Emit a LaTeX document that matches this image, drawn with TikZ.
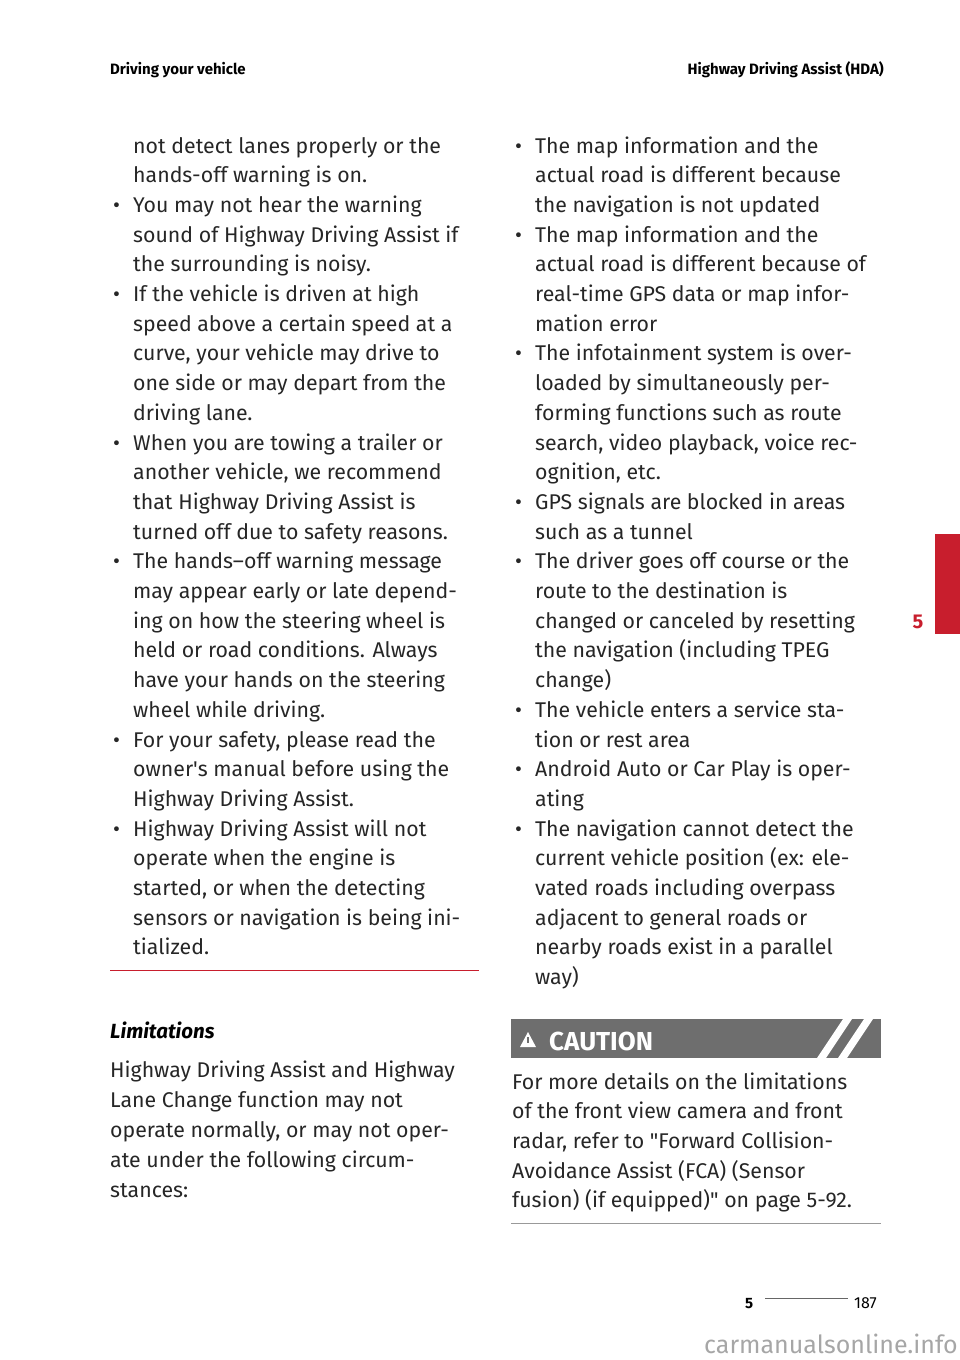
\documentclass[tikz,border=0pt]{standalone}
\usepackage{fontspec}
\setmainfont{Fira Sans}
\usetikzlibrary{positioning}
\definecolor{hdared}{RGB}{200,30,45}
\definecolor{cautiongray}{RGB}{110,110,110}
\tikzset{
    bodyline/.style={anchor=base west,inner sep=0pt,font=\fontsize{21.3}{24}\selectfont,text=black!85},
    bullet/.style={anchor=base west,inner sep=0pt,font=\fontsize{21.3}{24}\selectfont,text=black!85},
    headline/.style={inner sep=0pt,font=\fontsize{15}{17}\selectfont\bfseries},
}
\begin{document}
\begin{tikzpicture}[x=1pt,y=-1pt]
  \useasboundingbox (0,0) rectangle (960,1360);
  % header
  \node[headline,anchor=base west] (hleft) at (110,74) {Driving your vehicle};
  \node[headline,anchor=base east] (hright) at (884,74) {Highway Driving Assist (HDA)};
  % chapter tab
  \fill[hdared] (935,534) rectangle (960,634);
  \node[headline,text=hdared,font=\fontsize{20}{22}\selectfont\bfseries] (tab) at (918,622) {5};

  % left column
  \foreach \b/\t [count=\i] in {
    0/{not detect lanes properly or the},
    0/{hands-off warning is on.},
    1/{You may not hear the warning},
    0/{sound of Highway Driving Assist if},
    0/{the surrounding is noisy.},
    1/{If the vehicle is driven at high},
    0/{speed above a certain speed at a},
    0/{curve, your vehicle may drive to},
    0/{one side or may depart from the},
    0/{driving lane.},
    1/{When you are towing a trailer or},
    0/{another vehicle, we recommend},
    0/{that Highway Driving Assist is},
    0/{turned off due to safety reasons.},
    1/{The hands--off warning message},
    0/{may appear early or late depend-},
    0/{ing on how the steering wheel is},
    0/{held or road conditions. Always},
    0/{have your hands on the steering},
    0/{wheel while driving.},
    1/{For your safety, please read the},
    0/{owner\textquotesingle s manual before using the},
    0/{Highway Driving Assist.},
    1/{Highway Driving Assist will not},
    0/{operate when the engine is},
    0/{started, or when the detecting},
    0/{sensors or navigation is being ini-},
    0/{tialized.}} {
    \node[bodyline] (l\i) at (133,{153+(\i-1)*29.7}) {\t};
    \ifnum\b=1 \node[bullet] (lb\i) at (113,{153+(\i-1)*29.7}) {\textbullet}; \fi
  }
  \draw[hdared,line width=0.8pt] (110,970) -- (479,970);

  % limitations
  \node[headline,anchor=base west,font=\fontsize{20.5}{22}\selectfont\bfseries\itshape] (limits) at (110,1038) {Limitations};
  \foreach \t [count=\i] in {
    {Highway Driving Assist and Highway},
    {Lane Change function may not},
    {operate normally, or may not oper-},
    {ate under the following circum-},
    {stances:}} {
    \node[bodyline] (p\i) at (110,{1077+(\i-1)*30}) {\t};
  }

  % right column
  \foreach \b/\t [count=\i] in {
    1/{The map information and the},
    0/{actual road is different because},
    0/{the navigation is not updated},
    1/{The map information and the},
    0/{actual road is different because of},
    0/{real-time GPS data or map infor-},
    0/{mation error},
    1/{The infotainment system is over-},
    0/{loaded by simultaneously per-},
    0/{forming functions such as route},
    0/{search, video playback, voice rec-},
    0/{ognition, etc.},
    1/{GPS signals are blocked in areas},
    0/{such as a tunnel},
    1/{The driver goes off course or the},
    0/{route to the destination is},
    0/{changed or canceled by resetting},
    0/{the navigation (including TPEG},
    0/{change)},
    1/{The vehicle enters a service sta-},
    0/{tion or rest area},
    1/{Android Auto or Car Play is oper-},
    0/{ating},
    1/{The navigation cannot detect the},
    0/{current vehicle position (ex: ele-},
    0/{vated roads including overpass},
    0/{adjacent to general roads or},
    0/{nearby roads exist in a parallel},
    0/{way)}} {
    \node[bodyline] (r\i) at (535,{153+(\i-1)*29.7}) {\t};
    \ifnum\b=1 \node[bullet] (rb\i) at (515,{153+(\i-1)*29.7}) {\textbullet}; \fi
  }

  % caution box
  \fill[cautiongray] (511,1019) rectangle (881,1058);
  \fill[white] (817,1058) -- (843,1019) -- (852,1019) -- (826,1058) -- cycle;
  \fill[white] (838,1058) -- (864,1019) -- (873,1019) -- (847,1058) -- cycle;
  \node[headline,anchor=base west,text=white,font=\fontsize{26}{28}\selectfont\bfseries] (caution) at (549,1050) {CAUTION};
  \coordinate (warn) at (528,1040);
  \fill[white] ([shift={(-8,7)}]warn) -- ([shift={(8,7)}]warn) -- ([shift={(0,-8)}]warn) -- cycle;
  \fill[cautiongray] ([shift={(-1.2,-3)}]warn) rectangle ([shift={(1.2,3)}]warn);
  \foreach \t [count=\i] in {
    {For more details on the limitations},
    {of the front view camera and front},
    {radar, refer to \textquotedbl Forward Collision-},
    {Avoidance Assist (FCA) (Sensor},
    {fusion) (if equipped)\textquotedbl{} on page 5-92.}} {
    \node[bodyline] (c\i) at (512,{1089+(\i-1)*29.7}) {\t};
  }
  \draw[black!40,line width=0.8pt] (511,1223) -- (881,1223);

  % footer
  \node[headline,anchor=base west] (fchap) at (745,1308) {5};
  \node[anchor=base west,inner sep=0pt,font=\fontsize{16}{17}\selectfont] (fpage) at (854,1308) {187};
  \draw[black!60] (fchap.east) ++(12,-5) coordinate (fl) -- ([xshift=-6]fpage.west |- fl);
  \node[anchor=base east,inner sep=0pt,text=black!35,font=\fontsize{25}{27}\selectfont] (wm) at (958,1353) {carmanualsonline.info};
\end{tikzpicture}
\end{document}
